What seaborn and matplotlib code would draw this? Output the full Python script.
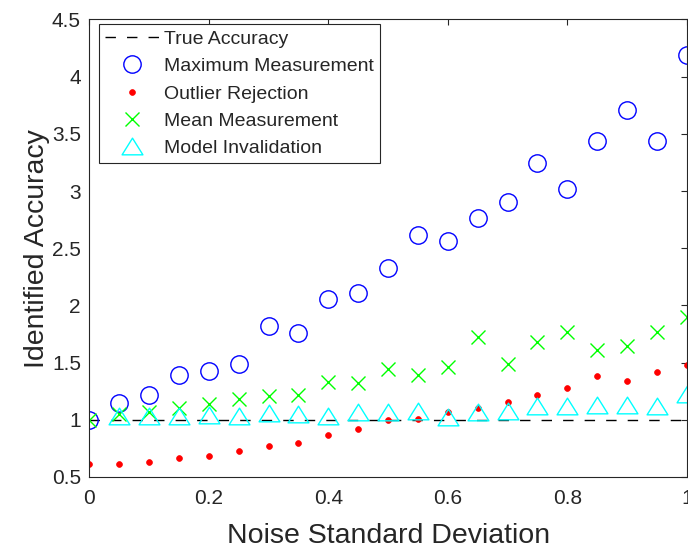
import numpy as np
import pandas as pd
import seaborn as sns
from matplotlib import pyplot as plt
from matplotlib.path import Path

# values
noise_sd = [0.0, 0.05, 0.1, 0.15, 0.2, 0.25, 0.3, 0.35, 0.4, 0.45, 0.5,
            0.55, 0.6, 0.65, 0.7, 0.75, 0.8, 0.85, 0.9, 0.95, 1.0]
true_accuracy = [1.0] * len(noise_sd)
max_meas = [1.0, 1.146, 1.22, 1.39, 1.43, 1.49, 1.82, 1.755, 2.055, 2.11, 2.33,
            2.616, 2.56, 2.76, 2.90, 3.246, 3.02, 3.44, 3.71, 3.44, 4.185]
outlier_rej = [0.615, 0.615, 0.627, 0.67, 0.682, 0.723, 0.772, 0.80, 0.865, 0.923, 0.998,
               1.009, 1.067, 1.10, 1.153, 1.216, 1.277, 1.38, 1.341, 1.417, 1.48]
mean_meas = [1.0, 1.052, 1.068, 1.10, 1.138, 1.183, 1.21, 1.22, 1.33, 1.32, 1.44,
             1.39, 1.458, 1.72, 1.49, 1.68, 1.767, 1.606, 1.647, 1.767, 1.90]
# no triangle at x=0
model_inv = [1.032, 1.03, 1.03, 1.042, 1.03, 1.06, 1.05, 1.035, 1.065, 1.07,
             1.079, 1.026, 1.067, 1.074, 1.122, 1.118, 1.131, 1.131, 1.118, 1.227]

x_ticks = [0, 0.2, 0.4, 0.6, 0.8, 1]
x_ticklabels = ["0", "0.2", "0.4", "0.6", "0.8", "1"]
y_ticks = [0.5, 1, 1.5, 2, 2.5, 3, 3.5, 4, 4.5]
y_ticklabels = ["0.5", "1", "1.5", "2", "2.5", "3", "3.5", "4", "4.5"]

sns.set_style("white")
plt.rcParams["font.family"] = ["Liberation Sans", "DejaVu Sans"]
axis_col = "#262626"

fig = plt.figure(figsize=(6.88, 5.48), dpi=100)
ax = fig.add_axes([0.1298, 0.1296, 0.8685, 0.8349])

# wide, flat triangle like matlab's
tri = Path([(0, 0.8), (-1, -0.8), (1, -0.8), (0, 0.8)],
           [Path.MOVETO, Path.LINETO, Path.LINETO, Path.CLOSEPOLY])

sns.lineplot(x=noise_sd, y=true_accuracy, ax=ax, color="k", lw=1.0,
             linestyle=(0, (7.5, 8)), errorbar=None, label="True Accuracy")
sns.lineplot(x=noise_sd, y=max_meas, ax=ax, linestyle="none", marker="o", ms=12.5,
             mfc="none", mec="b", mew=1.0, color="b", errorbar=None,
             label="Maximum Measurement")
sns.lineplot(x=noise_sd, y=outlier_rej, ax=ax, linestyle="none", marker="o", ms=4.2,
             mfc="r", mec="r", mew=0.5, color="r", errorbar=None,
             label="Outlier Rejection")
sns.lineplot(x=noise_sd, y=mean_meas, ax=ax, linestyle="none", marker="x", ms=9.5,
             mec="#00ff00", mew=1.0, color="#00ff00", errorbar=None,
             label="Mean Measurement")
sns.lineplot(x=noise_sd[1:], y=model_inv, ax=ax, linestyle="none", marker=tri, ms=15,
             mfc="none", mec="#00ffff", mew=1.0, color="#00ffff", errorbar=None,
             label="Model Invalidation")

ax.set_xlim(0, 1)
ax.set_ylim(0.5, 4.5)
ax.set_xticks(x_ticks)
ax.set_xticklabels(x_ticklabels)
ax.set_yticks(y_ticks)
ax.set_yticklabels(y_ticklabels)
ax.tick_params(direction="in", top=True, right=True, length=4.5, width=0.8,
               colors=axis_col, labelsize=15)
ax.tick_params(axis="x", pad=8.5)
ax.tick_params(axis="y", pad=6)
for sp in ax.spines.values():
    sp.set_color(axis_col)
    sp.set_linewidth(0.8)

ax.set_xlabel("Noise Standard Deviation", fontsize=20.5, color=axis_col, labelpad=11)
ax.set_ylabel("Identified Accuracy", fontsize=20.5, color=axis_col, labelpad=1)

leg = ax.legend(loc="upper left", bbox_to_anchor=(0.0167, 0.989), borderaxespad=0,
                fontsize=14, frameon=True, fancybox=False, framealpha=1,
                edgecolor=axis_col, handlelength=2.8, handletextpad=0.25,
                labelspacing=0.5, borderpad=0.3)
leg.get_frame().set_linewidth(0.8)

fig.savefig("out.png", dpi=100)
